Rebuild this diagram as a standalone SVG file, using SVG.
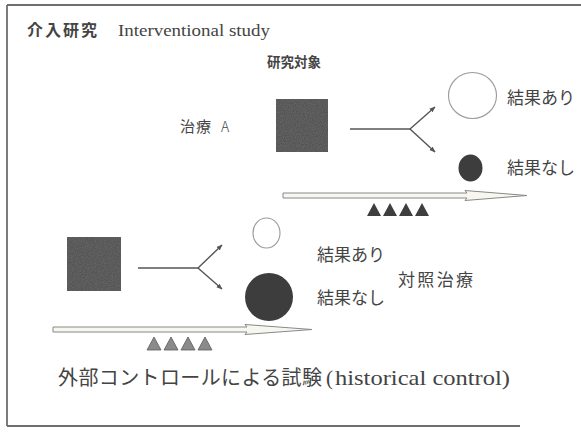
<svg xmlns="http://www.w3.org/2000/svg" width="581" height="435" viewBox="0 0 581 435">
<defs>
<marker id="ah" viewBox="0 0 10 10" refX="9" refY="5" markerWidth="6" markerHeight="6" orient="auto" markerUnits="userSpaceOnUse">
<path d="M0,1 L10,5 L0,9 Z" fill="#555"/>
</marker>
<filter id="grain" x="0" y="0" width="1" height="1">
<feTurbulence type="fractalNoise" baseFrequency="0.9" numOctaves="2" seed="3" result="n"/>
<feColorMatrix in="n" type="matrix" values="0 0 0 0 0.3  0 0 0 0 0.3  0 0 0 0 0.3  0 0 0 0.35 0" result="c"/>
<feComposite in="c" in2="SourceGraphic" operator="in" result="m"/>
<feMerge><feMergeNode in="SourceGraphic"/><feMergeNode in="m"/></feMerge>
</filter>
</defs>
<style>
.jp{font-family:"Noto Sans CJK JP","Noto Sans",sans-serif;fill:#444}
.lt{font-family:"Liberation Serif","DejaVu Serif",serif;fill:#444}
.sq{fill:#4a4a4a}
.dk{fill:#3d3d3d}
.op{fill:#fff;stroke:#9a9a9a;stroke-width:1.1}
.cn{stroke:#555;stroke-width:1.4;fill:none}
.tl{fill:#f7f7f0;stroke:#888;stroke-width:1}
.tri1{fill:#3e3e3e}
.tri2{fill:#8a8a8a;stroke:#5a5a5a;stroke-width:0.8}
</style>
<rect width="581" height="435" fill="#fff"/>
<g id="frame" stroke="#6e6e6e" stroke-width="1.8" fill="none">
<line x1="7" y1="5" x2="581" y2="5"/>
<line x1="7" y1="5" x2="7" y2="426"/>
<line x1="7" y1="426" x2="520" y2="426"/>
</g>
<g id="title">
<text class="jp" x="27" y="36" font-size="16" font-weight="bold" letter-spacing="2">介入研究</text>
<text class="lt" x="118" y="36" font-size="16" textLength="152" lengthAdjust="spacingAndGlyphs">Interventional study</text>
</g>
<g id="top-subject">
<text class="jp" x="267" y="67" font-size="13.5" font-weight="bold">研究対象</text>
<text class="jp" x="180" y="132" font-size="15" letter-spacing="1">治療</text>
<text class="jp" x="221" y="132" font-size="14" font-weight="300">A</text>
<rect class="sq" x="276" y="99" width="52" height="53" filter="url(#grain)"/>
</g>
<g id="top-yes">
<ellipse class="op" cx="472.5" cy="95.5" rx="24" ry="23"/>
<text class="jp" x="507" y="104" font-size="17">結果あり</text>
</g>
<g id="top-no">
<ellipse class="dk" cx="470.5" cy="168" rx="12" ry="13.5"/>
<text class="jp" x="507" y="174" font-size="17">結果なし</text>
</g>
<g id="top-time">
<path class="tl" d="M283,193 L467,193 L465,190.5 L527,195.5 L465,200.5 L467,198 L283,198 Z"/>
<g class="tri1">
<path d="M367,216 L374,203 L381,216 Z"/>
<path d="M383,216 L390,203 L397,216 Z"/>
<path d="M399,216 L406,203 L413,216 Z"/>
<path d="M415,216 L422,203 L429,216 Z"/>
</g>
</g>
<g id="bottom-subject">
<rect class="sq" x="67" y="237" width="54" height="54" filter="url(#grain)"/>
</g>
<g id="bottom-yes">
<ellipse class="op" cx="266.5" cy="233" rx="13.5" ry="15"/>
<text class="jp" x="317" y="261" font-size="17">結果あり</text>
</g>
<g id="bottom-no">
<ellipse class="dk" cx="269" cy="297" rx="24" ry="24"/>
<text class="jp" x="317" y="304" font-size="17">結果なし</text>
</g>
<g id="bottom-label">
<text class="jp" x="398" y="286" font-size="17" textLength="75">対照治療</text>
</g>
<g id="bottom-time">
<path class="tl" d="M53,327 L247,327 L245,324.5 L312,329.5 L245,334.5 L247,332 L53,332 Z"/>
<g class="tri2">
<path d="M147,350 L154,337 L161,350 Z"/>
<path d="M164,350 L171,337 L178,350 Z"/>
<path d="M181,350 L188,337 L195,350 Z"/>
<path d="M198,350 L205,337 L212,350 Z"/>
</g>
</g>
<g id="connectors">
<path class="cn" d="M350,129 L410,129"/>
<path class="cn" d="M410,129 L435,107" marker-end="url(#ah)"/>
<path class="cn" d="M410,129 L435,152" marker-end="url(#ah)"/>
<path class="cn" d="M138,268 L198,268"/>
<path class="cn" d="M198,268 L222,245" marker-end="url(#ah)"/>
<path class="cn" d="M198,268 L222,289" marker-end="url(#ah)"/>
</g>
<g id="caption">
<text class="jp" x="58" y="385" font-size="20" textLength="264">外部コントロールによる試験</text>
<text class="lt" x="326" y="385" font-size="21">(</text>
<text class="lt" x="335" y="385" font-size="21" textLength="175" lengthAdjust="spacingAndGlyphs">historical control)</text>
</g>
</svg>
